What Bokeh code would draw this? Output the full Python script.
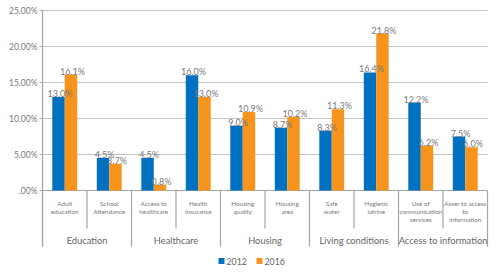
from bokeh.plotting import figure
from bokeh.models import Range1d
from bokeh.core.properties import value
from bokeh.embed import file_html
from bokeh.resources import INLINE

# ---- data ----
subcats = [
    ["Adult", "education"],
    ["School", "Attendance"],
    ["Access to", "healthcare"],
    ["Health", "Insurance"],
    ["Housing", "quality"],
    ["Housing", "area"],
    ["Safe", "water"],
    ["Hygienic", "latrine"],
    ["Use of", "communication", "services"],
    ["Asser to access", "to", "information"],
]
groups = ["Education", "Healthcare", "Housing", "Living conditions", "Access to information"]
group_sizes = [2, 2, 2, 2, 2]
v2012 = [13.0, 4.5, 4.5, 16.0, 9.0, 8.7, 8.3, 16.4, 12.2, 7.5]
v2016 = [16.1, 3.7, 0.8, 13.0, 10.9, 10.2, 11.3, 21.8, 6.2, 6.0]
series = ["2012", "2016"]
yticks = [0, 5, 10, 15, 20, 25]
ytick_labels = [".00%", "5.00%", "10.00%", "15.00%", "20.00%", "25.00%"]

BLUE = "#0070c0"
ORANGE = "#f7941d"
GRAY_TXT = "#7a7a7a"
GRID = "#c4c4c4"
AXIS = "#a6a6a6"
FONT = value("Lato")

W, H = 503, 274
X0, PXU = 42.0, 44.5      # pixel of x=0, pixels per category
Y0, PYU = 190.0, 7.2      # pixel of y=0, pixels per percent

def dx(px):  # pixel offset -> data x units
    return px / PXU

def dy(px):
    return px / PYU

p = figure(width=W, height=H, output_backend="svg", toolbar_location=None,
           x_range=Range1d(-X0 / PXU, (W - X0) / PXU),
           y_range=Range1d(-(H - Y0) / PYU, Y0 / PYU),
           min_border=0)
p.axis.visible = False
p.grid.visible = False
p.outline_line_color = None
p.background_fill_color = "white"
p.border_fill_color = "white"

n = len(subcats)
ymax = yticks[-1]

# gridlines
gy = [t for t in yticks if t > 0]
p.segment(x0=[0] * len(gy), x1=[n] * len(gy), y0=gy, y1=gy, line_color=GRID, line_width=1)
# baseline
p.segment(x0=[0], x1=[n], y0=[0], y1=[0], line_color=AXIS, line_width=1.2)
# y axis line (extends down as first group separator)
p.segment(x0=[0], x1=[0], y0=[ymax], y1=[-dy(56)], line_color=AXIS, line_width=1.2)
# y ticks
p.segment(x0=[-dx(3)] * len(yticks), x1=[0] * len(yticks), y0=yticks, y1=yticks,
          line_color=AXIS, line_width=1)
p.text(x=[-dx(5)] * len(yticks), y=yticks, text=ytick_labels, text_font=FONT,
       text_font_size="8.5px", text_color=GRAY_TXT, text_align="right", text_baseline="middle")

# separators
bounds = [0]
for s in group_sizes:
    bounds.append(bounds[-1] + s)
sub_sep = [i for i in range(1, n) if i not in bounds]
p.segment(x0=sub_sep, x1=sub_sep, y0=[0] * len(sub_sep), y1=[-dy(38)] * len(sub_sep),
          line_color=AXIS, line_width=1.2)
p.segment(x0=bounds, x1=bounds, y0=[0] * len(bounds), y1=[-dy(56)] * len(bounds),
          line_color=AXIS, line_width=1.2)

# bars
bw = 0.28
xc = [i + 0.5 for i in range(n)]
x12 = [x - bw / 2 for x in xc]
x16 = [x + bw / 2 for x in xc]
p.vbar(x=x12, top=v2012, width=bw, bottom=0, fill_color=BLUE, line_color=None)
p.vbar(x=x16, top=v2016, width=bw, bottom=0, fill_color=ORANGE, line_color=None)

# bar labels
lab12 = [f"{v:.1f}%" for v in v2012]
lab16 = [f"{v:.1f}%" for v in v2016]
p.text(x=[x + dx(1.5) for x in x12], y=[v + dy(3.5) for v in v2012], text=lab12, text_font=FONT,
       text_font_size="9px", text_color=GRAY_TXT, text_align="center", text_baseline="alphabetic")
p.text(x=[x + dx(1.5) for x in x16], y=[v + dy(3.5) for v in v2016], text=lab16, text_font=FONT,
       text_font_size="9px", text_color=GRAY_TXT, text_align="center", text_baseline="alphabetic")

# subcategory labels (one row per line)
sx, sy, st = [], [], []
for i, lines in enumerate(subcats):
    for j, t in enumerate(lines):
        sx.append(i + 0.5)
        sy.append(-dy(12.7 + 8.2 * j))
        st.append(t)
p.text(x=sx, y=sy, text=st, text_font=FONT, text_font_size="6.3px", text_color=GRAY_TXT,
       text_align="center", text_baseline="middle")

# group labels
gx = [(bounds[k] + bounds[k + 1]) / 2 for k in range(len(groups))]
p.text(x=gx, y=[-dy(50)] * len(groups), text=groups, text_font=FONT, text_font_size="9.3px",
       text_color="#666666", text_align="center", text_baseline="middle")

# legend
lx = [(221 - X0) / PXU, (259 - X0) / PXU]
ly = -dy(70.5)
p.scatter(x=lx, y=[ly, ly], marker="square", size=6, fill_color=[BLUE, ORANGE], line_color=None)
p.text(x=[x + dx(5) for x in lx], y=[ly, ly], text=series, text_font=FONT, text_font_size="8.8px",
       text_color="#666666", text_align="left", text_baseline="middle")

open("out.html", "w").write(file_html(p, INLINE))
